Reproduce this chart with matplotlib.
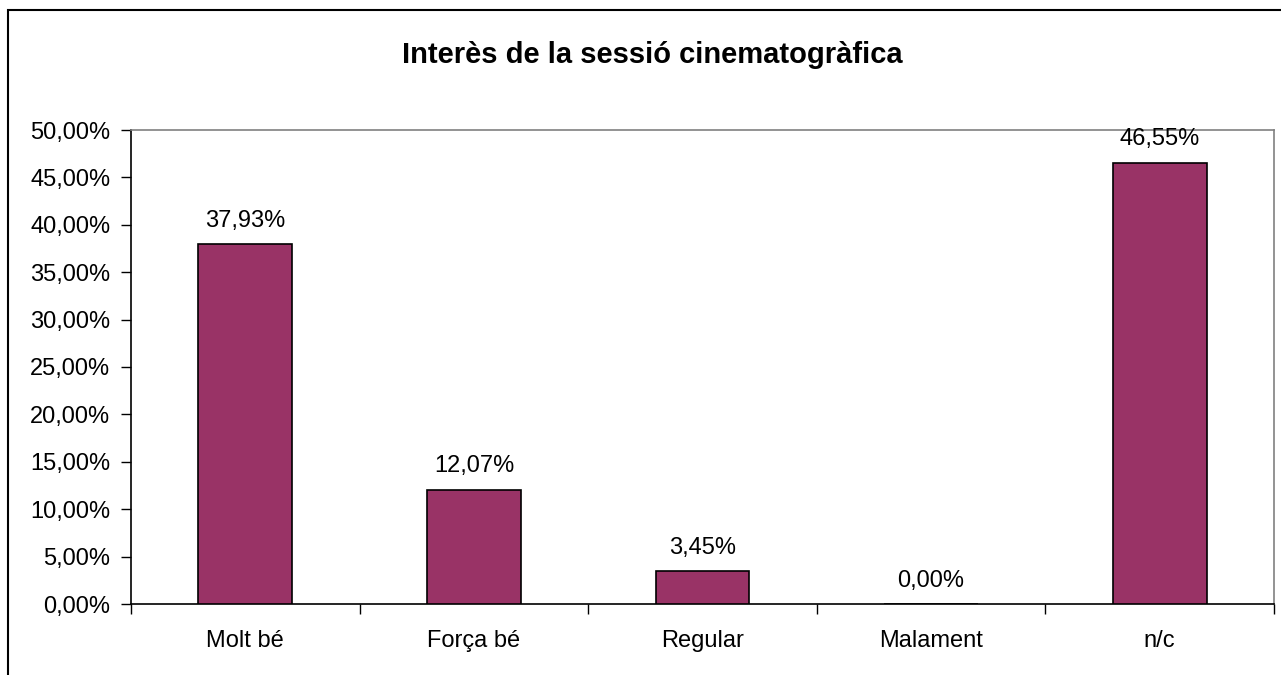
import matplotlib.pyplot as plt
from matplotlib.patches import Rectangle
from matplotlib.ticker import FixedLocator, FuncFormatter, MultipleLocator
import numpy as np

plt.rcParams['font.family'] = ['Liberation Sans', 'DejaVu Sans']

categories = ['Molt bé', 'Força bé', 'Regular', 'Malament', 'n/c']
values = [37.93, 12.07, 3.45, 0.00, 46.55]
title = 'Interès de la sessió cinematogràfica'

bar_color = '#993366'


def pct(v, pos=None):
    return f"{v:.2f}".replace('.', ',') + '%'


fig = plt.figure(figsize=(12.81, 6.75), dpi=100)
ax = fig.add_axes([131 / 1281, 1 - 604 / 675, 1143 / 1281, 474 / 675])

x = np.arange(len(categories))
ax.bar(x, values, width=0.41, color=bar_color, edgecolor='black', linewidth=1.2, zorder=3)

for xi, v in zip(x, values):
    ax.annotate(pct(v), (xi, v), xytext=(0, 9), textcoords='offset points',
                ha='center', va='bottom', fontsize=17)

ax.set_xlim(-0.5, len(categories) - 0.5)
ax.set_ylim(0, 50)
ax.yaxis.set_major_locator(MultipleLocator(5))
ax.yaxis.set_major_formatter(FuncFormatter(pct))
ax.set_xticks(x)
ax.set_xticklabels(categories)
ax.xaxis.set_minor_locator(FixedLocator(np.arange(-0.5, len(categories), 1.0)))
ax.tick_params(axis='x', which='major', length=0, pad=19, labelsize=17)
ax.tick_params(axis='x', which='minor', length=7, width=1, color='black')
ax.tick_params(axis='y', length=7, width=1, labelsize=17, pad=8)

for side in ['top', 'right']:
    ax.spines[side].set_color('#808080')
    ax.spines[side].set_linewidth(1.2)
for side in ['left', 'bottom']:
    ax.spines[side].set_color('black')
    ax.spines[side].set_linewidth(1.2)

fig.text(652 / 1281, 1 - 55 / 675, title, ha='center', va='center',
         fontsize=21, fontweight='bold')

border = Rectangle((8 / 1281, -0.05), 1.2, 1 - 10 / 675 + 0.05,
                   transform=fig.transFigure, fill=False, edgecolor='black',
                   linewidth=1.5, clip_on=False)
fig.patches.append(border)

fig.savefig('out.png', dpi=100)
